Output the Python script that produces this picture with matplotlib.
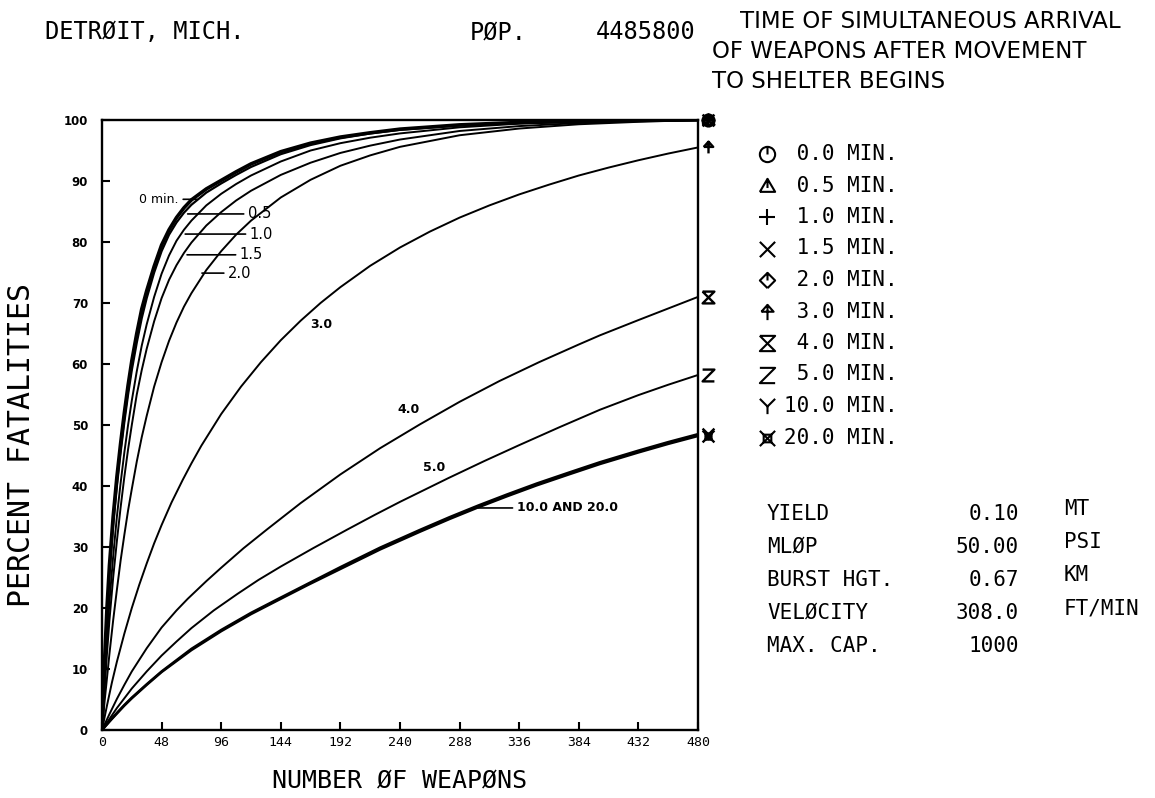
import numpy as np
import matplotlib
matplotlib.use("Agg")
import matplotlib.pyplot as plt
from matplotlib.path import Path
from matplotlib.lines import Line2D
from matplotlib.transforms import ScaledTranslation

# ---------------- data ----------------
times = [0.0, 0.5, 1.0, 1.5, 2.0, 3.0, 4.0, 5.0, 10.0, 20.0]

x_fast = [0, 2, 4, 6, 9, 12, 15, 18, 21, 24, 28, 32, 36, 42, 48, 54, 60, 66, 72, 84,
          96, 108, 120, 144, 168, 192, 216, 240, 288, 336, 384, 432, 480]
y_00 = [0, 11, 20, 27, 35, 41.5, 47, 52, 56.5, 60.5, 65, 69, 72, 76, 79.5, 82, 84, 85.6,
        86.9, 88.7, 90.1, 91.5, 92.8, 94.8, 96.2, 97.2, 97.9, 98.5, 99.2, 99.6, 99.8, 99.95, 100]
y_05 = [0, 10, 18.5, 25.5, 33.5, 40, 45.5, 50.5, 55, 59, 63.5, 67.5, 70.8, 75, 78.5, 81.2,
        83.2, 84.8, 86.1, 88.1, 89.6, 91, 92.3, 94.4, 95.9, 97, 97.8, 98.4, 99.1, 99.5, 99.8, 99.9, 100]
y_10 = [0, 8, 15, 21, 28.5, 35, 40.5, 45.5, 50, 54, 58.8, 63, 66.5, 71, 74.8, 77.8, 80.2,
        82, 83.5, 86, 87.9, 89.5, 90.9, 93.2, 95, 96.2, 97.1, 97.8, 98.8, 99.4, 99.7, 99.9, 100]
y_15 = [0, 6.5, 12.5, 18, 25, 31, 36.5, 41.5, 46, 50, 55, 59, 62.5, 67, 70.8, 73.8, 76.2,
        78.2, 79.9, 82.7, 84.9, 86.8, 88.4, 91, 93, 94.6, 95.8, 96.8, 98.2, 99, 99.5, 99.8, 100]
y_20 = [0, 4.5, 8.5, 12.5, 18, 23, 27.8, 32, 36, 39.5, 44, 48, 51.5, 56.3, 60.3, 63.8, 66.8,
        69.4, 71.6, 75.4, 78.5, 81.2, 83.5, 87.3, 90.2, 92.5, 94.2, 95.6, 97.5, 98.6, 99.3, 99.7, 100]

x_30 = [0, 4, 8, 12, 18, 24, 30, 36, 42, 48, 56, 65, 72, 80, 96, 112, 128, 144, 160, 176,
        192, 216, 240, 264, 288, 312, 336, 360, 384, 408, 432, 456, 480]
y_30 = [0, 4, 7.8, 11.2, 15.8, 20, 23.8, 27.3, 30.6, 33.6, 37.3, 41, 43.7, 46.6, 51.8, 56.3,
        60.3, 63.9, 67.1, 70, 72.6, 76.1, 79.1, 81.7, 84, 86, 87.8, 89.4, 90.9, 92.2, 93.4, 94.5, 95.5]

x_40 = [0, 6, 12, 18, 24, 36, 48, 60, 69, 84, 96, 114, 133, 160, 192, 224, 256, 288, 320,
        352, 384, 401, 432, 456, 480]
y_40 = [0, 2.6, 5.1, 7.4, 9.6, 13.4, 16.8, 19.6, 21.5, 24.4, 26.6, 29.8, 32.9, 37.2, 41.9,
        46.2, 50.1, 53.8, 57.2, 60.3, 63.2, 64.7, 67.2, 69.1, 71]

x_50 = [0, 6, 12, 18, 24, 36, 48, 60, 72, 90, 109, 126, 144, 170, 197, 220, 240, 260, 279,
        308, 336, 368, 401, 432, 456, 480]
y_50 = [0, 1.8, 3.6, 5.2, 6.8, 9.6, 12.2, 14.5, 16.7, 19.6, 22.3, 24.6, 26.8, 29.8, 32.8,
        35.3, 37.4, 39.4, 41.3, 44.1, 46.7, 49.6, 52.5, 54.9, 56.6, 58.2]

x_slow = [0, 6, 12, 18, 24, 36, 48, 72, 96, 120, 141, 166, 192, 224, 256, 280, 303, 326,
          350, 376, 401, 432, 456, 480]
y_100 = [0, 1.4, 2.8, 4.1, 5.3, 7.5, 9.6, 13.3, 16.4, 19.2, 21.4, 24.0, 26.7, 29.9, 32.8,
         34.9, 36.8, 38.6, 40.4, 42.2, 43.9, 45.8, 47.2, 48.5]
y_200 = [0, 1.4, 2.7, 4.0, 5.2, 7.4, 9.5, 13.1, 16.2, 19.0, 21.2, 23.8, 26.4, 29.6, 32.5,
         34.6, 36.5, 38.3, 40.1, 41.9, 43.6, 45.5, 46.9, 48.2]

curves_x = [x_fast, x_fast, x_fast, x_fast, x_fast, x_30, x_40, x_50, x_slow, x_slow]
curves_y = [y_00, y_05, y_10, y_15, y_20, y_30, y_40, y_50, y_100, y_200]
curve_lw = [2.6, 1.6, 1.4, 1.4, 1.4, 1.4, 1.4, 1.4, 1.8, 1.8]

x_ticks = [0, 48, 96, 144, 192, 240, 288, 336, 384, 432, 480]
y_ticks = [0, 10, 20, 30, 40, 50, 60, 70, 80, 90, 100]

param_names = ["YIELD", "MLØP", "BURST HGT.", "VELØCITY", "MAX. CAP."]
param_values = ["0.10", "50.00", "0.67", "308.0", "1000"]
param_units = ["MT", "PSI", "KM", "FT/MIN", ""]

# ---------------- markers ----------------
def comp(*ps):
    return Path.make_compound_path(*ps)

m_00 = comp(Path.unit_circle(), Path([(0, 0), (0, 1)]))
m_05 = comp(Path([(-1, -0.7), (1, -0.7), (0, 1), (-1, -0.7)]), Path([(0, -0.2), (0, 1)]))
m_10 = comp(Path([(-1, 0), (1, 0)]), Path([(0, -1), (0, 1)]))
m_15 = comp(Path([(-1, -1), (1, 1)]), Path([(-1, 1), (1, -1)]))
m_20 = comp(Path([(0, -1), (1, 0), (0, 1), (-1, 0), (0, -1)]), Path([(0, 0), (0, 1)]))
m_30 = comp(Path([(-0.8, 0.1), (0, 1), (0.8, 0.1), (-0.8, 0.1)]), Path([(0, -1), (0, 1)]))
m_40 = Path([(-1, 1), (1, 1), (-1, -1), (1, -1), (-1, 1)])
m_50 = Path([(-1, 1), (1, 1), (-1, -1), (1, -1)])
m_100 = comp(Path([(-1, 1), (0, 0), (1, 1)]), Path([(0, 0), (0, -1)]))
m_200 = comp(Path([(-0.5, -0.5), (0.5, -0.5), (0.5, 0.5), (-0.5, 0.5), (-0.5, -0.5)]),
             Path([(-1, -1), (1, 1)]), Path([(-1, 1), (1, -1)]))
markers = [m_00, m_05, m_10, m_15, m_20, m_30, m_40, m_50, m_100, m_200]

# ---------------- figure ----------------
W, H = 1155, 798
fig = plt.figure(figsize=(W / 100, H / 100), dpi=100)
ax = fig.add_axes([102 / W, 68 / H, 596 / W, 610 / H])

mono = "DejaVu Sans Mono"

for xs, ys, lw in zip(curves_x, curves_y, curve_lw):
    ax.plot(xs, ys, color="black", lw=lw, solid_capstyle="butt", solid_joinstyle="round")

# end markers, slightly right of the right frame
off = ax.transData + ScaledTranslation(7 / 72, 0, fig.dpi_scale_trans)
for xs, ys, mk in zip(curves_x, curves_y, markers):
    ax.plot([xs[-1]], [ys[-1]], marker=mk, ms=8.5, mew=1.7, color="black",
            mfc="none", ls="none", transform=off, clip_on=False)

ax.set_xlim(0, 480)
ax.set_ylim(0, 100)
for s in ax.spines.values():
    s.set_linewidth(1.7)
ax.set_xticks(x_ticks)
ax.set_yticks(y_ticks)
ax.set_xticklabels([str(v) for v in x_ticks], fontsize=9.5, family=mono)
ax.set_yticklabels([str(v) for v in y_ticks], fontsize=8.5, fontweight="bold")
ax.tick_params(axis="y", direction="in", length=6, width=1.5, pad=10)
ax.tick_params(axis="x", direction="in", length=6, width=1.5, pad=4)

# curve labels
lab_kw = dict(fontsize=9, fontweight="bold", color="black", va="center")
arrow = dict(arrowstyle="-", color="black", lw=1.2, shrinkA=1, shrinkB=0)
ax.annotate("0 min.", xy=(76.5, 87), xytext=(62, 87), ha="right",
            arrowprops=arrow, fontsize=9, va="center")
ax.annotate("0.5", xy=(69, 84.6), xytext=(117.5, 84.6), ha="left", arrowprops=arrow,
            fontsize=10.5, va="center")
ax.annotate("1.0", xy=(67, 81.3), xytext=(119, 81.3), ha="left", arrowprops=arrow,
            fontsize=10.5, va="center")
ax.annotate("1.5", xy=(68.5, 77.9), xytext=(111, 77.9), ha="left", arrowprops=arrow,
            fontsize=10.5, va="center")
ax.annotate("2.0", xy=(80.5, 74.9), xytext=(101.5, 74.9), ha="left", arrowprops=arrow,
            fontsize=10.5, va="center")
ax.text(176.5, 66.4, "3.0", ha="center", **lab_kw)
ax.text(246.5, 52.5, "4.0", ha="center", **lab_kw)
ax.text(267.5, 43.0, "5.0", ha="center", **lab_kw)
ax.annotate("10.0 AND 20.0", xy=(303, 36.4), xytext=(334, 36.4), ha="left",
            arrowprops=arrow, fontsize=9, fontweight="bold", va="center")

# axis titles
fig.text(22 / W, 1 - 445 / H, "PERCENT FATALITIES", rotation=90, ha="center",
         va="center", fontsize=21.5, family=mono)
fig.text(400 / W, 1 - 780 / H, "NUMBER ØF WEAPØNS", ha="center", va="center",
         fontsize=18, family=mono)

# headers
fig.text(45 / W, 1 - 32 / H, "DETRØIT, MICH.", ha="left", va="center",
         fontsize=17, family=mono)
fig.text(470 / W, 1 - 32 / H, "PØP.", ha="left", va="center", fontsize=17, family=mono)
fig.text(696 / W, 1 - 32 / H, "4485800", ha="right", va="center", fontsize=17, family=mono)

fig.text(740 / W, 1 - 21 / H, "TIME OF SIMULTANEOUS ARRIVAL", ha="left", va="center",
         fontsize=16.5)
fig.text(712 / W, 1 - 51 / H, "OF WEAPONS AFTER MOVEMENT", ha="left", va="center",
         fontsize=16.5)
fig.text(712 / W, 1 - 81 / H, "TO SHELTER BEGINS", ha="left", va="center",
         fontsize=16.5)

# legend (manual, symbol + label)
for i, (t, mk) in enumerate(zip(times, markers)):
    ypx = 154 + i * 31.5
    fig.add_artist(Line2D([767 / W], [1 - ypx / H], marker=mk, ms=11, mew=1.5,
                          color="black", mfc="none", ls="none",
                          transform=fig.transFigure))
    fig.text(784 / W, 1 - ypx / H, f"{t:4.1f} MIN.", ha="left", va="center",
             fontsize=15, family=mono)

# parameter table
for i, (nm, val, un) in enumerate(zip(param_names, param_values, param_units)):
    ypx = 514 + i * 33
    fig.text(767 / W, 1 - ypx / H, nm, ha="left", va="center", fontsize=15, family=mono)
    fig.text(1019 / W, 1 - ypx / H, val, ha="right", va="center", fontsize=15, family=mono)
    if un:
        fig.text(1064 / W, 1 - (ypx - 5) / H, un, ha="left", va="center",
                 fontsize=15, family=mono)

fig.savefig("out.png", dpi=100)
